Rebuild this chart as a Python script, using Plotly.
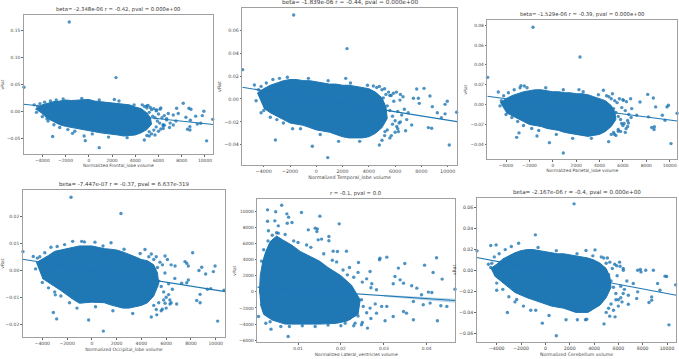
import plotly.graph_objects as go

BLUE = "#1f77b4"

# x values shared by the lobe panels for points along the edge of the dense cloud
volume_edge_x = [4600,4800,5000,5100,5200,5300,5400,5500,5600,5700,5800,5900,6000,6100,6200,6300,6400,6500,6700,5000,5200,5400,5600,5800,6000,6200,6400,-4400,-4200,-4000,-3800,-3500,-3300,-3000,-2800,-2500,-2200,-1800,-1200,-600,300,900,1700,2600,3300,3900]

# ---------- Frontal ----------
frontal_title = "beta= -2.348e-06 r = -0.42, pval = 0.000e+00"
frontal_label = "Normalized Frontal_lobe volume"
frontal_cloud_x = [-4600,-4000,-3500,-3000,-2500,-2000,-1500,-1000,-500,0,500,1000,1500,2000,2500,3000,3500,4000,4500,5000,5300,5400,5000,4500,4000,3500,3000,2500,2000,1500,1000,500,0,-500,-1000,-1500,-2000,-2500,-3000,-3500,-4000]
frontal_cloud_y = [.004,.012,.015,.018,.019,.021,.020,.021,.022,.022,.019,.018,.017,.016,.015,.013,.012,.008,.005,-.003,-.012,-.024,-.034,-.040,-.044,-.045,-.046,-.044,-.043,-.041,-.040,-.038,-.036,-.034,-.033,-.030,-.028,-.025,-.020,-.014,-.005]
frontal_pts_x = [-1680,2340,-5580,-3110,-300,900,4780,10140,10660,9900,9770,9200,9340,9630,8740,8620,8790,8130,8700,8500,8710,8360,7560,7700,7270,6840,6700,7270,7000,6410,6130,5840,5700,5200,5000,6500,6950,7500,-4700,-4500,-3600,-1400,-400,2200]
frontal_pts_y = [.166,.0626,.0446,-.047,-.0546,-.0676,-.0533,-.055,-.015,0,-.008,-.009,-.0235,-.0223,-.0167,.0056,.0037,.015,-.0285,-.0335,-.0347,-.011,.0056,-.004,-.007,-.004,-.016,-.0254,-.022,-.032,.004,.0025,-.044,-.046,.01,-.026,-.03,-.018,.012,-.002,-.014,-.041,-.046,.022]
frontal_edge_y = [.012,.009,.006,.011,-.002,.007,.003,-.009,.005,-.012,.001,-.018,-.005,-.022,.006,-.012,-.027,-.008,-.014,-.045,-.038,-.042,-.035,-.029,-.037,-.033,-.025,.009,.014,-.010,.017,-.018,.019,-.025,.021,-.030,.023,-.034,-.037,.024,-.042,.021,-.048,.019,-.049,.012]
frontal_line_x = [-5600,10700]
frontal_line_y = [.013,-.0245]

# ---------- Temporal ----------
temporal_title = "beta= -1.839e-06 r = -0.44, pval = 0.000e+00"
temporal_label = "Normalized Temporal_lobe volume"
temporal_cloud_x = [-4500,-4000,-3500,-3000,-2500,-2000,-1500,-1000,-500,0,500,1000,1500,2000,2500,3000,3500,4000,4500,5000,5300,5400,5000,4500,4000,3500,3000,2500,2000,1500,1000,500,0,-500,-1000,-1500,-2000,-2500,-3000,-3500,-4000]
temporal_cloud_y = [.005,.009,.012,.014,.016,.017,.017,.016,.016,.015,.014,.013,.013,.012,.012,.011,.010,.009,.006,.001,-.007,-.017,-.025,-.030,-.033,-.034,-.034,-.034,-.033,-.031,-.029,-.028,-.027,-.025,-.023,-.022,-.021,-.018,-.015,-.012,-.008]
temporal_pts_x = [-1720,2340,-5600,-3110,-300,870,4800,10120,10680,9970,9800,9210,9520,9800,8200,7640,8650,8830,8530,8780,7770,7840,7390,6880,6800,7260,6370,6120,6250,5710,5230,-4710,2240,4340,-4580,5870,6600,7000,5600,-4200]
temporal_pts_y = [.0734,.044,.0256,-.0358,-.0413,-.0512,-.0402,-.0402,-.0116,-.002,-.0047,-.012,-.0163,-.013,.0093,.0087,.0026,-.0067,-.025,-.0256,.0006,-.0038,.0006,-.018,-.0277,-.0227,-.001,-.024,-.0285,-.032,-.0285,.0122,.018,.0113,-.0015,.005,.002,-.012,.003,-.012]
temporal_edge_y = [.010,.011,.008,.001,.009,.004,-.006,.006,-.010,.003,-.015,-.002,-.019,.006,-.011,-.021,.004,-.014,-.009,-.036,-.032,-.027,-.034,-.022,-.029,-.026,-.02,.008,.011,-.010,.014,-.016,.017,-.018,.018,-.021,.019,-.026,-.026,.018,-.031,.016,-.037,.014,-.037,.012]
temporal_line_x = [-5630,10708]
temporal_line_y = [.0102,-.0198]

# ---------- Parietal ----------
parietal_title = "beta= -1.529e-06 r = -0.39, pval = 0.000e+00"
parietal_label = "Normalized Parietal_lobe volume"
parietal_cloud_x = [-4500,-4000,-3500,-3000,-2500,-2000,-1500,-1000,-500,0,500,1000,1500,2000,2500,3000,3500,4000,4500,5000,5300,5400,5000,4500,4000,3500,3000,2500,2000,1500,1000,500,0,-500,-1000,-1500,-2000,-2500,-3000,-3500,-4000]
parietal_cloud_y = [.002,.006,.009,.011,.013,.014,.015,.015,.014,.013,.013,.012,.012,.011,.011,.010,.008,.006,.004,-.001,-.007,-.015,-.022,-.027,-.030,-.031,-.032,-.031,-.030,-.029,-.028,-.026,-.025,-.024,-.022,-.021,-.020,-.017,-.014,-.011,-.008]
parietal_pts_x = [-1690,2330,-5570,-3090,-2890,-1350,-290,900,4780,10110,10630,9890,9770,9370,9600,8120,8600,8800,8690,8460,8660,7460,6660,6040,6750,6470,6270,5890,5270,5600,-4660,-4510,-2720,-2430,4330,2240,7180,8180]
parietal_pts_y = [.078,.048,.0275,-.033,-.0285,-.0316,-.0383,-.0487,-.0373,-.0393,-.0087,-.0007,-.0023,-.0107,-.0157,.0103,.0067,-.0023,-.0223,-.023,-.025,.0027,.006,.0043,-.004,-.0185,-.0242,-.019,-.0299,-.0269,.0128,-.0013,.0192,.0188,.0145,.0151,-.0107,-.0123]
parietal_edge_y = [.009,.008,.006,.011,-.004,.004,-.008,.002,-.012,.006,-.015,-.003,.005,-.019,-.006,.003,-.022,-.010,-.013,-.030,-.028,-.031,-.025,-.027,-.021,-.028,-.016,.004,.009,-.010,.012,-.013,.015,-.017,.017,-.021,.017,-.024,-.026,.017,-.030,.015,-.034,.013,-.034,.010]
parietal_line_x = [-5600,10650]
parietal_line_y = [.0084,-.0165]

# ---------- Occipital ----------
occipital_title = "beta= -7.447e-07 r = -0.37, pval = 6.637e-319"
occipital_label = "Normalized Occipital_lobe volume"
occipital_cloud_x = [-4500,-4000,-3500,-3000,-2500,-2000,-1500,-1000,-500,0,500,1000,1500,2000,2500,3000,3500,4000,4500,5000,5300,5400,5000,4500,4000,3500,3000,2500,2000,1500,1000,500,0,-500,-1000,-1500,-2000,-2500,-3000,-3500,-4000]
occipital_cloud_y = [.0028,.004,.0055,.007,.0075,.008,.0085,.009,.009,.009,.0085,.008,.0078,.0075,.0068,.006,.005,.004,.0035,.002,-.001,-.005,-.0095,-.012,-.013,-.0135,-.014,-.014,-.0135,-.0128,-.012,-.0118,-.0118,-.012,-.0122,-.0108,-.009,-.0075,-.006,-.0045,-.003]
occipital_pts_x = [-1680,2350,-5560,-3110,-2840,-2950,-260,930,4800,10160,10670,9950,9810,9190,9330,9600,8140,7520,7660,7790,8870,8650,8740,8470,8740,7790,7660,6850,6310,5910,5240,5690,5910,4290,1550,-1550,-820,250,-4730,-4540,6720,7250]
occipital_pts_y = [.027,.021,.0069,-.0156,-.018,-.0091,-.0184,-.0225,-.0173,-.0188,-.0074,.0016,-.0005,-.0014,-.007,-.0068,.0065,.0032,.0026,.0016,.0011,-.0001,-.0089,-.0112,-.012,-.0036,-.0046,-.0125,-.0125,-.0122,-.0165,-.0144,.0053,.0077,.0102,.0107,.0107,.0104,.0051,.0005,.0016,-.0048]
occipital_edge_y = [.005,.006,.004,-.002,.005,.001,-.004,.003,-.006,.002,-.008,-.001,-.01,.004,-.005,-.011,.002,-.007,-.003,-.013,-.0145,-.012,-.015,-.011,-.014,-.009,-.012,.0045,.005,-.0045,.0065,-.0065,.0085,-.008,.0088,-.0095,.0095,-.012,-.014,.0105,-.0135,.009,-.015,.0078,-.016,.0062]
occipital_line_x = [-5583,10775]
occipital_line_y = [.0041,-.0079]

# ---------- Lateral ventricles ----------
ventricles_title = "r = -0.1, pval = 0.0"
ventricles_label = "Normalized Lateral_ventricles volume"
ventricles_cloud_x = [.0010,.0012,.0018,.0025,.0035,.0050,.0065,.0085,.0105,.0125,.0150,.0170,.0200,.0225,.0245,.0240,.0215,.0190,.0150,.0100,.0070,.0040,.0020,.0012]
ventricles_cloud_y = [-200,2000,3800,5000,6200,6900,6400,5800,5000,4500,3800,3000,2000,800,-1000,-2800,-3600,-3900,-4000,-4000,-4000,-3500,-2800,-1500]
ventricles_pts_x = [.0062,.0029,.0048,.0108,.0074,.0078,.0151,.0029,.0046,.0086,.0075,.0054,.0196,.0124,.0140,.0145,.0144,.0031,.0054,.0172,.0172,.0155,.0147,.0182,.0192,.0213,.0307,.0291,.029,.0349,.0395,.0423,.0415,.0436,.0466,.0412,.0404,.0388,.0377,.0365,.0346,.0322,.0334,.0326,.0338,.0283,.0272,.0268,.0241,.0248,.0303,.0369,.0425,.0433,.0447,.0037,.0077,.0008,.0262,.0248,.0233,.0392,.0353,.0346,.0322,.0369,.0408,.0307,.0283,.0295,.0252,.0268]
ventricles_pts_y = [10720,10140,9900,9810,9650,9240,9360,8740,8780,8580,8490,8160,8410,7670,7880,7790,7460,7550,7260,6850,6310,6520,6430,5030,4990,5030,4290,4160,3960,3500,3300,4210,2390,1570,330,-80,-40,-370,450,740,1070,990,2930,1900,1480,250,990,2510,3630,-990,-3590,-3460,-3590,-1730,-1810,-4620,-5530,-3050,-4490,-4080,-3880,-1610,-2640,-2430,-3050,-1200,-1400,-1810,-2640,-1810,-1810,-2020]
ventricles_edge_x = [.0205,.0215,.022,.023,.024,.025,.026,.027,.021,.022,.023,.024,.025,.026,.027,.028,.016,.018,.019,.013,.012,.010,.009,.007,.005,.004,.003,.002,.0015,.011,.014,.017,.020,.006,.008,.0025,.0035]
ventricles_edge_y = [2700,2100,3000,1800,2400,1200,1600,500,-3900,-3300,-4200,-3000,-3800,-2600,-3300,-1500,4700,3900,3700,5500,5800,6100,6300,7100,7300,7000,6300,5200,3800,-4200,-4300,-4100,-4200,-4300,-4300,-3900,-3700]
ventricles_line_x = [.0005,.0466]
ventricles_line_y = [580,-1070]
ventricles_band_x = [.030,.0466,.0466,.030]
ventricles_band_y = [-380,-850,-1350,-620]

# ---------- Cerebellum ----------
cerebellum_title = "beta= -2.167e-06 r = -0.4, pval = 0.000e+00"
cerebellum_label = "Normalized Cerebellum volume"
cerebellum_cloud_x = [-4500,-4000,-3500,-3000,-2500,-2000,-1500,-1000,-500,0,500,1000,1500,2000,2500,3000,3500,4000,4500,5000,5300,5400,5000,4500,3500,2500,1500,500,-500,-1500,-2500,-3500,-4200]
cerebellum_cloud_y = [.002,.006,.011,.014,.017,.019,.020,.020,.019,.018,.017,.016,.016,.015,.014,.013,.012,.010,.007,.002,-.006,-.016,-.026,-.033,-.040,-.040,-.036,-.034,-.030,-.026,-.021,-.012,-.005]
cerebellum_pts_x = [2360,-820,-5620,-4490,-4050,-3120,-250,900,4820,10160,10710,9970,9840,9230,9420,8250,8880,7590,7810,7860,8740,8520,8740,7230,6820,6820,7590,7510,6140,5860,6410,5290,5730,2630,3400,4080,3340,-4680,-4490,-4000,-790,-2360]
cerebellum_pts_y = [.0637,.0341,.0188,.0239,.0245,-.0401,-.0503,-.0624,-.051,-.0519,-.0137,-.0057,-.0054,-.0124,-.0188,.0003,.0003,.0003,.001,-.0013,-.0252,-.0306,-.0283,-.0124,-.0236,-.0322,-.0204,-.0268,.0041,.0045,.0003,-.0436,-.0443,-.0471,-.0465,.0197,.0191,.006,.0029,-.0188,-.0379,-.0277]
cerebellum_edge_y = [.013,.012,.007,.012,-.004,.008,-.010,.002,-.016,.006,-.022,-.005,-.028,.008,-.015,-.030,.002,-.018,-.010,-.040,-.036,-.032,-.038,-.028,-.034,-.026,-.022,.007,.013,-.012,.016,-.018,.020,-.025,.023,-.030,.026,-.034,-.038,.022,-.043,.019,-.047,.016,-.047,.014]
cerebellum_line_x = [-5645,10765]
cerebellum_line_y = [.0124,-.0236]

volume_ticks = [-4000,-2000,0,2000,4000,6000,8000,10000]

W, H = 679, 359
panels = [
    dict(box=(23.7,213,15,154), xr=(-5600,10690), yr=(-.0794,.179), xt=volume_ticks, yt=[-.05,0,.05,.10,.15], yf=".2f", fs=5.3,
         title=frontal_title, label=frontal_label, cx=frontal_cloud_x, cy=frontal_cloud_y, px=frontal_pts_x, py=frontal_pts_y, ex=volume_edge_x, ey=frontal_edge_y, lx=frontal_line_x, ly=frontal_line_y),
    dict(box=(242.3,457,8.3,164.7), xr=(-5630,10708), yr=(-.0574,.0792), xt=volume_ticks, yt=[-.04,-.02,0,.02,.04,.06], yf=".2f", fs=5.8,
         title=temporal_title, label=temporal_label, cx=temporal_cloud_x, cy=temporal_cloud_y, px=temporal_pts_x, py=temporal_pts_y, ex=volume_edge_x, ey=temporal_edge_y, lx=temporal_line_x, ly=temporal_line_y),
    dict(box=(487.3,677.3,20,159), xr=(-5600,10650), yr=(-.0548,.0853), xt=volume_ticks, yt=[-.04,-.02,0,.02,.04,.06,.08], yf=".2f", fs=5.3,
         title=parietal_title, label=parietal_label, cx=parietal_cloud_x, cy=parietal_cloud_y, px=parietal_pts_x, py=parietal_pts_y, ex=volume_edge_x, ey=parietal_edge_y, lx=parietal_line_x, ly=parietal_line_y),
    dict(box=(22.7,225.3,190,337.3), xr=(-5583,10775), yr=(-.0248,.0297), xt=volume_ticks, yt=[-.02,-.01,0,.01,.02], yf=".2f", fs=5.5,
         title=occipital_title, label=occipital_label, cx=occipital_cloud_x, cy=occipital_cloud_y, px=occipital_pts_x, py=occipital_pts_y, ex=volume_edge_x, ey=occipital_edge_y, lx=occipital_line_x, ly=occipital_line_y),
    dict(box=(257.3,455,199,342.3), xr=(.00051,.0466), yr=(-6250,11485), xt=[.01,.02,.03,.04], yt=[-6000,-4000,-2000,0,2000,4000,6000,8000,10000], yf="d", fs=5.3,
         title=ventricles_title, label=ventricles_label, cx=ventricles_cloud_x, cy=ventricles_cloud_y, px=ventricles_pts_x, py=ventricles_pts_y, ex=ventricles_edge_x, ey=ventricles_edge_y, lx=ventricles_line_x, ly=ventricles_line_y),
    dict(box=(476.7,676.3,197.7,342.3), xr=(-5645,10765), yr=(-.0686,.0696), xt=volume_ticks, yt=[-.06,-.04,-.02,0,.02,.04,.06], yf=".2f", fs=5.6,
         title=cerebellum_title, label=cerebellum_label, cx=cerebellum_cloud_x, cy=cerebellum_cloud_y, px=cerebellum_pts_x, py=cerebellum_pts_y, ex=volume_edge_x, ey=cerebellum_edge_y, lx=cerebellum_line_x, ly=cerebellum_line_y),
]

fig = go.Figure()
layout = dict(width=W, height=H, margin=dict(l=0, r=0, t=0, b=0), paper_bgcolor="white", plot_bgcolor="white",
              showlegend=False, font=dict(family="DejaVu Sans", color="#333333"), annotations=[])
GREY = "#a0a0a0"
LAB = "#4a4a4a"
for i, p in enumerate(panels, 1):
    s = "" if i == 1 else str(i)
    xa, ya = f"x{s}", f"y{s}"
    l, r, t, b = p["box"]
    fs = p["fs"]
    common = dict(showgrid=False, zeroline=False, showline=True, linecolor=GREY, linewidth=1, mirror=True,
                  ticks="outside", ticklen=1.5, tickwidth=.6, tickcolor="#666666", tickfont=dict(size=fs*.83, color=LAB))
    layout[f"xaxis{s}"] = dict(domain=[l/W, r/W], range=list(p["xr"]), anchor=ya, tickmode="array", tickvals=p["xt"],
                               tickformat=".2f" if 0 < p["xt"][0] < 1 else "d",
                               title=dict(text=p["label"], font=dict(size=fs*.83, color=LAB), standoff=2), **common)
    layout[f"yaxis{s}"] = dict(domain=[1-b/H, 1-t/H], range=list(p["yr"]), anchor=xa, tickmode="array", tickvals=p["yt"], tickformat=p["yf"],
                               title=dict(text="vRat", font=dict(size=fs*.83, color=LAB), standoff=2), **common)
    layout["annotations"].append(dict(text=p["title"], xref=f"{xa} domain", yref=f"{ya} domain", x=.5, y=1, yshift=0,
                                      xanchor="center", yanchor="bottom", showarrow=False, font=dict(size=fs, color="#3a3a3a")))
    fig.add_trace(go.Scatter(x=p["cx"], y=p["cy"], xaxis=xa, yaxis=ya, mode="lines", fill="toself", fillcolor=BLUE,
                             line=dict(color=BLUE, width=1), hoverinfo="skip"))
    fig.add_trace(go.Scatter(x=p["ex"], y=p["ey"], xaxis=xa, yaxis=ya, mode="markers",
                             marker=dict(color=BLUE, size=3.4, opacity=.8)))
    fig.add_trace(go.Scatter(x=p["px"], y=p["py"], xaxis=xa, yaxis=ya, mode="markers",
                             marker=dict(color=BLUE, size=3.4, opacity=.8), cliponaxis=False))
    fig.add_trace(go.Scatter(x=p["lx"], y=p["ly"], xaxis=xa, yaxis=ya, mode="lines", line=dict(color=BLUE, width=1.1)))
    if i == 5:
        fig.add_trace(go.Scatter(x=ventricles_band_x, y=ventricles_band_y, xaxis=xa, yaxis=ya, mode="none", fill="toself",
                                 fillcolor="rgba(31,119,180,.3)"))
fig.update_layout(**layout)
fig.write_html("out.html", post_script="document.body.style.margin='0';", config=dict(displayModeBar=False))
